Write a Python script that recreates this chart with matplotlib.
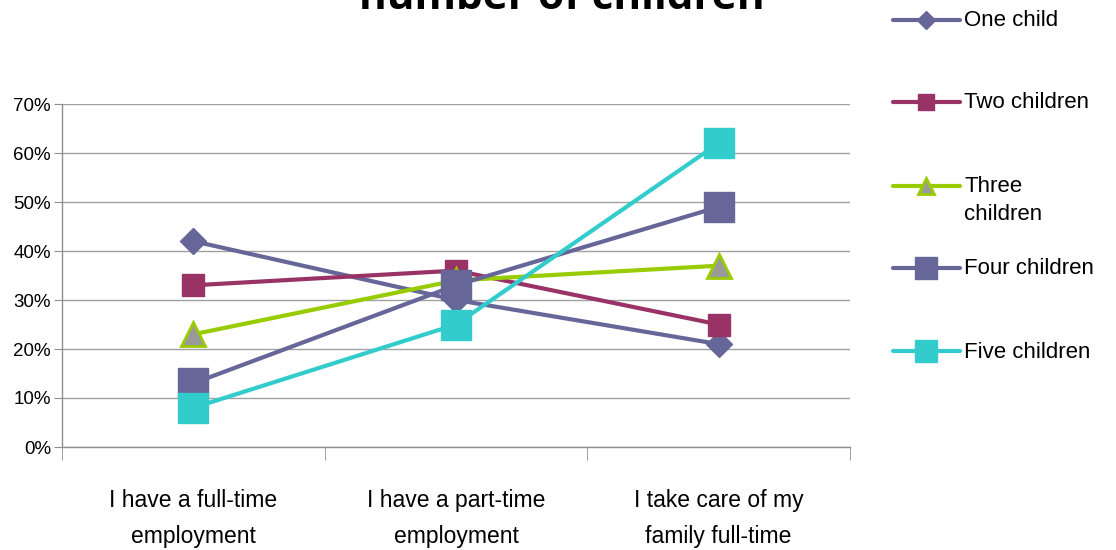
import matplotlib
matplotlib.use("Agg")
import matplotlib.pyplot as plt
from matplotlib.ticker import PercentFormatter, FixedLocator

categories = ["I have a full-time\nemployment", "I have a part-time\nemployment", "I take care of my\nfamily full-time"]
series_names = ["One child", "Two children", "Three\nchildren", "Four children", "Five children"]
one_child = [42, 30, 21]
two_children = [33, 36, 25]
three_children = [23, 34, 37]
four_children = [13, 33, 49]
five_children = [8, 25, 62]
y_ticks = [0, 10, 20, 30, 40, 50, 60, 70]

plt.rcParams['font.family'] = ['Liberation Sans', 'DejaVu Sans']

fig = plt.figure(figsize=(11.16, 5.5), dpi=100)
ax = fig.add_axes([62/1116, 1-447/550, (850-62)/1116, (447-104)/550])

styles = [
    dict(color="#666699", marker="D", ms=13, mfc="#666699", mec="#666699", mew=1),
    dict(color="#993366", marker="s", ms=16, mfc="#993366", mec="#993366", mew=1),
    dict(color="#99CC00", marker="^", ms=17, mfc="#999999", mec="#99CC00", mew=2),
    dict(color="#666699", marker="s", ms=22, mfc="#666699", mec="#666699", mew=1),
    dict(color="#33CCCC", marker="s", ms=22, mfc="#33CCCC", mec="#33CCCC", mew=1),
]
data = [one_child, two_children, three_children, four_children, five_children]
x = [0, 1, 2]
handles = []
for name, vals, st in zip(series_names, data, styles):
    h, = ax.plot(x, vals, lw=3, label=name, solid_capstyle='round', zorder=3, **st)
    handles.append(h)

ax.set_xlim(-0.5, 2.5)
ax.set_ylim(0, 70)
ax.yaxis.set_major_locator(FixedLocator(y_ticks))
ax.yaxis.set_major_formatter(PercentFormatter(decimals=0))
ax.set_xticks(x)
ax.set_xticklabels(categories, fontsize=16.5, linespacing=1.75)
ax.xaxis.set_minor_locator(FixedLocator([-0.5, 0.5, 1.5, 2.5]))
ax.tick_params(axis='x', which='major', length=0, pad=30)
ax.tick_params(axis='x', which='minor', length=9, color='#909090', direction='out')
ax.tick_params(axis='y', length=6, color='#909090', labelsize=13.5, pad=2)
ax.grid(axis='y', color='#a0a0a0', lw=1)
ax.set_axisbelow(True)
for s in ['top', 'right']:
    ax.spines[s].set_visible(False)
for s in ['left', 'bottom']:
    ax.spines[s].set_color('#909090')
    ax.spines[s].set_linewidth(1)

fig.text(562/1116, 1-9/550, "number of children", ha='center', va='baseline',
         fontsize=30.5, fontweight='bold', family=['Open Sans', 'DejaVu Sans'])

# legend entries: one per series, first line of each label level with its handle
entry_centers = [19, 101, 185, 267, 350]
for h, lab, yc in zip(handles, series_names, entry_centers):
    leg = fig.legend([h], [lab], loc='upper left',
                     bbox_to_anchor=(893/1116, 1-(yc-8.5)/550),
                     frameon=False, fontsize=16, handlelength=3, handleheight=1.1,
                     handletextpad=0.2, borderpad=0, borderaxespad=0,
                     markerscale=0.7, labelspacing=0.3)
    for t in leg.get_texts():
        t.set_linespacing(1.4)
    for col in leg._legend_handle_box.get_children():
        for item in col.get_children():
            item.align = 'top'

fig.savefig("out.png", dpi=100)
